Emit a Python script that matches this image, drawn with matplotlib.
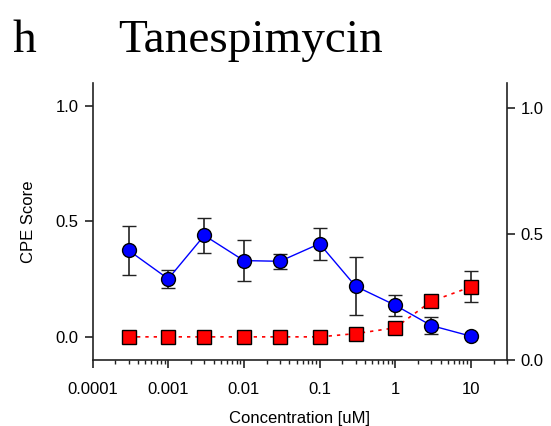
import numpy as np
import matplotlib
matplotlib.use("Agg")
import matplotlib.pyplot as plt
from matplotlib.ticker import LogLocator, FixedLocator, FixedFormatter, NullFormatter

# data
conc = [0.0003, 0.001, 0.003, 0.01, 0.03, 0.1, 0.3, 1, 3, 10]
cpe = [0.374, 0.251, 0.439, 0.330, 0.327, 0.403, 0.219, 0.137, 0.049, 0.003]
cpe_err = [0.106, 0.040, 0.075, 0.088, 0.033, 0.070, 0.125, 0.045, 0.037, 0.0]
tox = [0.0, 0.0, 0.0, 0.0, 0.0, 0.0, 0.014, 0.039, 0.154, 0.216]
tox_err = [0.0, 0.0, 0.0, 0.0, 0.0, 0.0, 0.0, 0.0, 0.02, 0.067]

xticks = [0.0001, 0.001, 0.01, 0.1, 1, 10]
xticklabels = ["0.0001", "0.001", "0.01", "0.1", "1", "10"]
yticks = [0.0, 0.5, 1.0]
yticklabels = ["0.0", "0.5", "1.0"]

plt.rcParams['font.family'] = ['Liberation Sans', 'DejaVu Sans']

fig = plt.figure(figsize=(5.51, 4.26), dpi=100)
ax = fig.add_axes([0.168, 0.155, 0.752, 0.651])

lc = '#222222'
ax.errorbar(conc, cpe, yerr=cpe_err, color='blue', lw=1.0, marker='o', ms=10,
            mfc='blue', mec='black', mew=1.0, ecolor=lc, elinewidth=1.2,
            capsize=5, capthick=1.2, zorder=3)
ax.errorbar(conc, tox, yerr=tox_err, color='red', lw=1.2, ls=(0, (2, 3)), marker='s', ms=10,
            mfc='red', mec='black', mew=1.0, ecolor=lc, elinewidth=1.2,
            capsize=5, capthick=1.2, zorder=4)

ax.set_xscale('log')
ax.set_xlim(0.0001, 30)
ax.set_ylim(-0.1, 1.1)
ax.xaxis.set_major_locator(FixedLocator(xticks))
ax.xaxis.set_major_formatter(FixedFormatter(xticklabels))
ax.xaxis.set_minor_locator(LogLocator(base=10, subs=np.arange(2, 10), numticks=20))
ax.xaxis.set_minor_formatter(NullFormatter())
ax.set_yticks(yticks)
ax.set_yticklabels(yticklabels)

for s in ['top', 'right']:
    ax.spines[s].set_visible(False)
for s in ['left', 'bottom']:
    ax.spines[s].set_linewidth(1.2)
    ax.spines[s].set_color(lc)
ax.tick_params(which='major', direction='out', length=6, width=1.2, color=lc,
               labelsize=12, pad=4)
ax.tick_params(which='minor', direction='out', length=3, width=1.0, color=lc)
ax.tick_params(axis='x', which='major', pad=10)

ax.set_xlabel("Concentration [uM]", fontsize=12, labelpad=10)
ax.set_ylabel("CPE Score", fontsize=12, labelpad=14)

ax2 = ax.twinx()
ax2.set_ylim(0, 1.1)
ax2.set_yticks(yticks)
ax2.set_yticklabels(yticklabels)
for s in ['top', 'left', 'bottom']:
    ax2.spines[s].set_visible(False)
ax2.spines['right'].set_linewidth(1.2)
ax2.spines['right'].set_color(lc)
ax2.tick_params(direction='out', length=6, width=1.2, color=lc, labelsize=12, pad=4)

fig.text(0.022, 0.878, "h", fontsize=34, family='Liberation Serif', va='baseline')
fig.text(0.214, 0.878, "Tanespimycin", fontsize=34, family='Liberation Serif', va='baseline')

fig.savefig("out.png", dpi=100)
